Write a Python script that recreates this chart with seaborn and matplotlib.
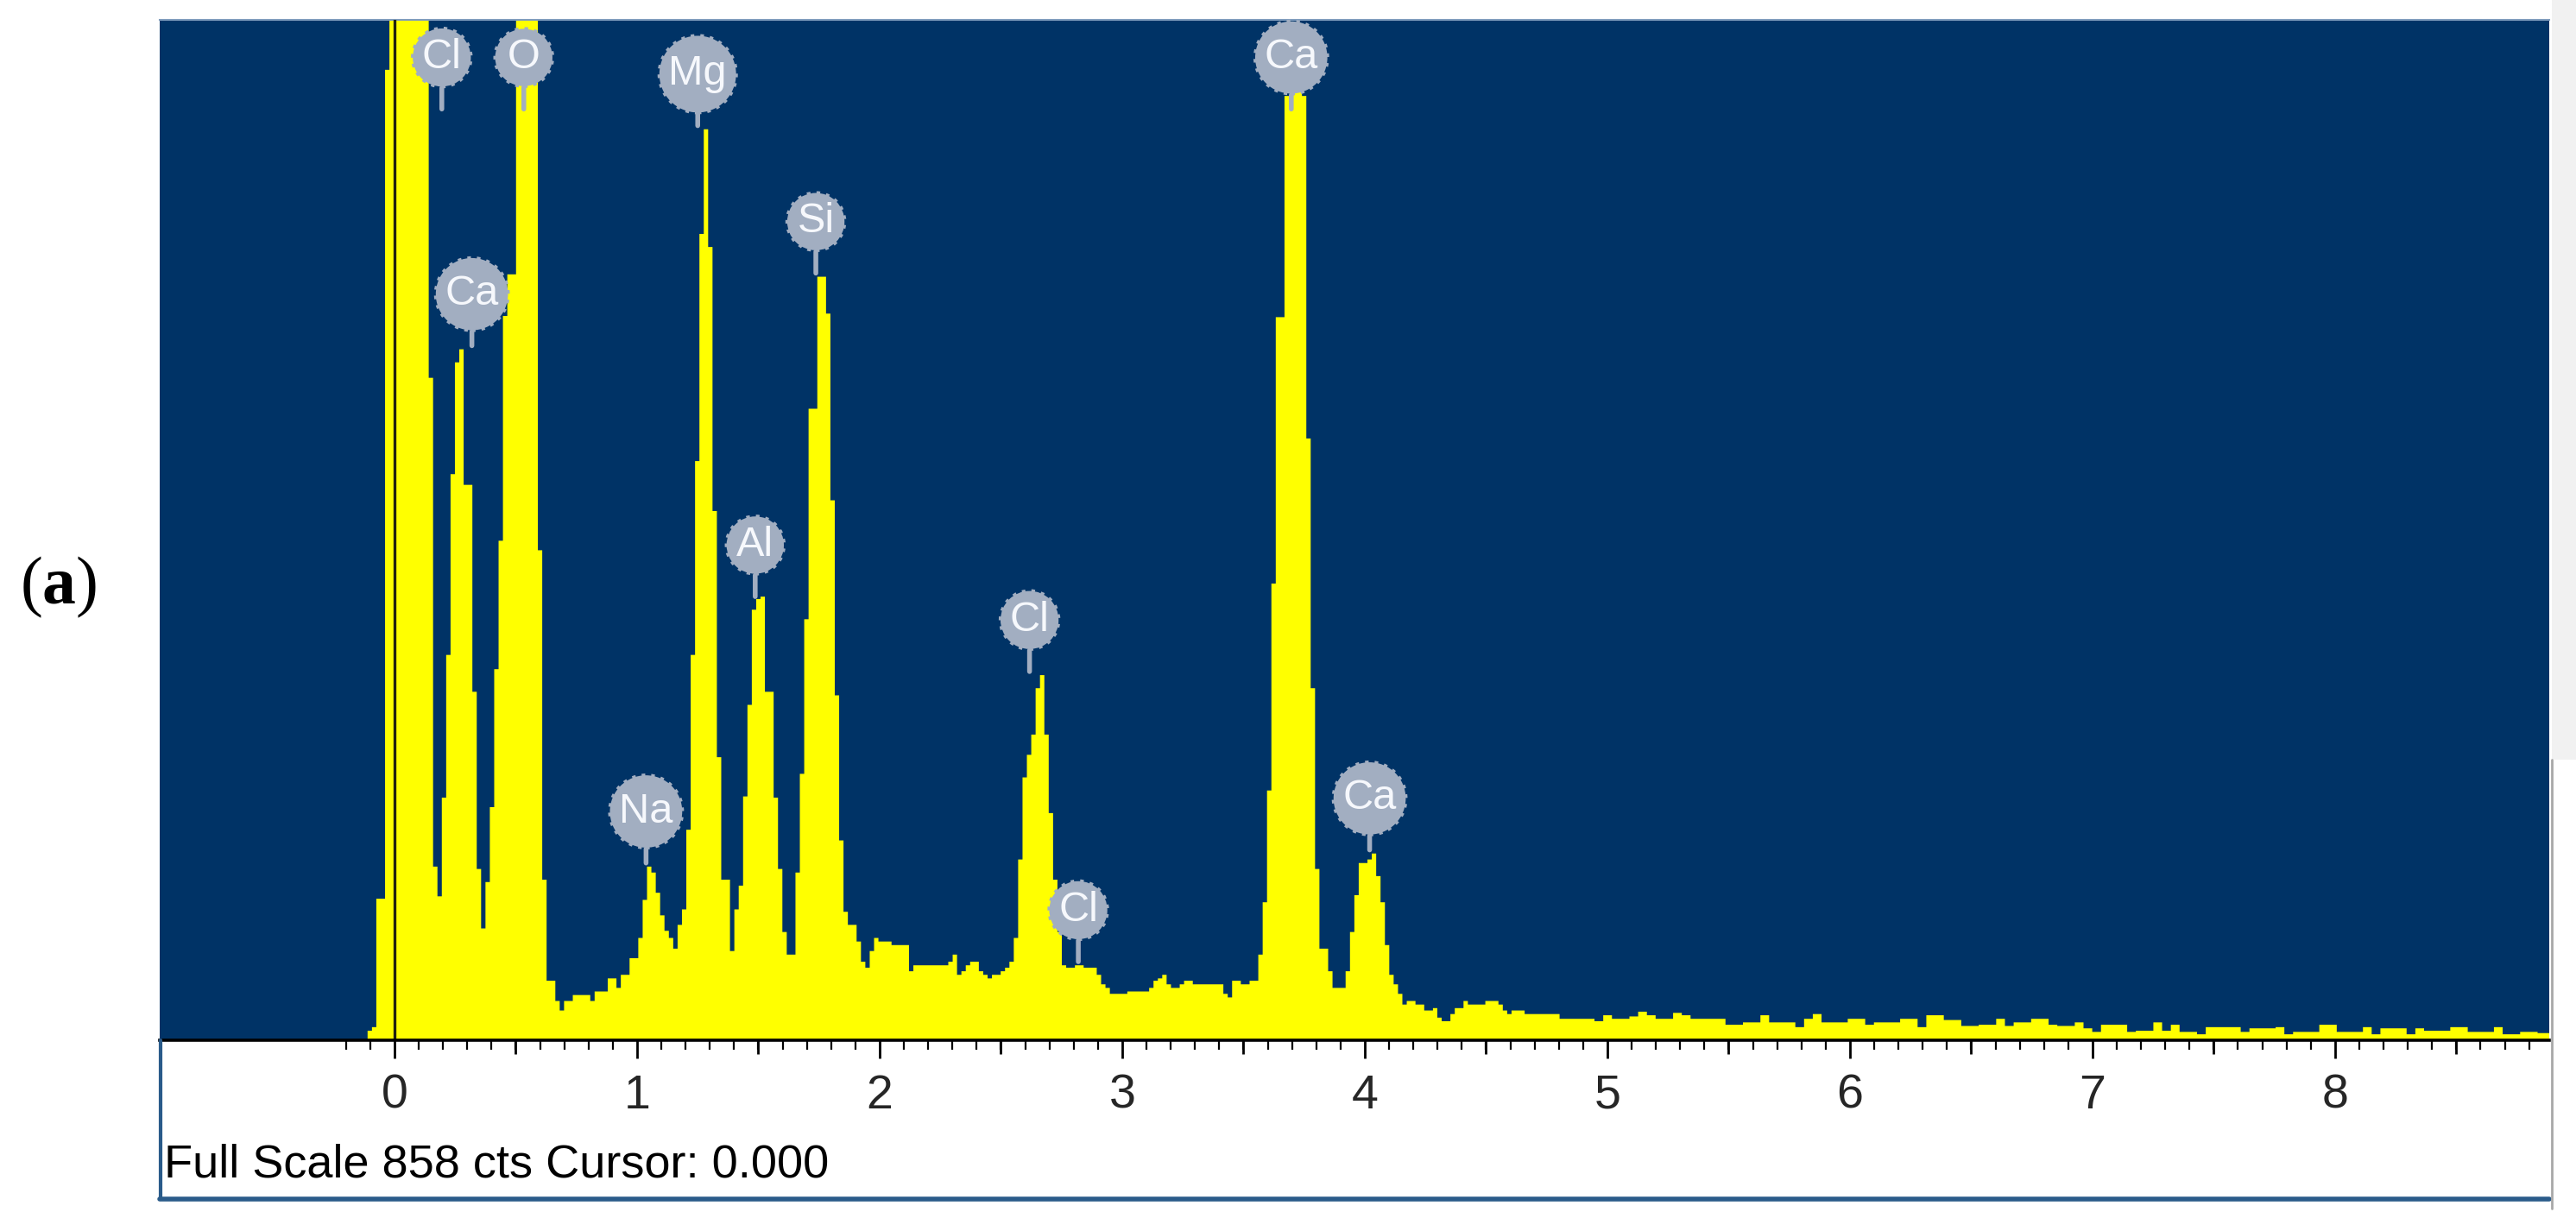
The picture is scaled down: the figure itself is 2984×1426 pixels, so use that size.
import numpy as np
import matplotlib
matplotlib.use("Agg")
import matplotlib.pyplot as plt
from matplotlib.lines import Line2D
from matplotlib.patches import Rectangle
from matplotlib.ticker import FixedLocator
import pandas as pd
import seaborn as sns

# ---------------- data ----------------
channel_start_kev = -0.111      # first channel edge
channel_width_kev = 0.018       # width of one channel (main part)
tail_width_kev = 0.036          # coarser reading of the flat tail

counts_main = [
    8, 11, 119, 119, 816, 1350, 2600, 3100, 2400, 1900,
    1600, 1450, 1250, 1000, 557, 146, 121, 204, 324, 476,
    570, 581, 467, 467, 293, 144, 94, 133, 196, 312,
    420, 609, 644, 644, 1050, 1450, 1600, 1350, 980, 412,
    135, 50, 50, 33, 25, 33, 33, 38, 38, 38,
    38, 33, 41, 41, 41, 52, 52, 44, 55, 55,
    69, 69, 86, 118, 146, 141, 124, 105, 92, 86,
    77, 97, 110, 177, 324, 487, 678, 766, 667, 445,
    238, 135, 135, 75, 110, 130, 205, 282, 362, 371,
    373, 293, 293, 204, 144, 91, 72, 72, 141, 224,
    354, 531, 531, 642, 642, 611, 454, 290, 168, 108,
    97, 97, 83, 66, 61, 75, 86, 83, 83, 83,
    80, 80, 80, 80, 58, 63, 63, 63, 63, 63,
    63, 63, 63, 66, 72, 55, 58, 63, 66, 66,
    58, 55, 52, 55, 55, 58, 61, 66, 86, 152,
    221, 240, 257, 296, 307, 257, 191, 135, 91, 63,
    61, 61, 63, 63, 61, 61, 61, 55, 47, 44,
    39, 39, 39, 39, 41, 41, 41, 41, 41, 44,
    50, 52, 55, 47, 44, 44, 47, 50, 50, 47,
    47, 47, 47, 47, 47, 47, 39, 36, 50, 50,
    47, 47, 50, 50, 72, 116, 210, 384, 608, 608,
    794, 794, 852, 852, 794, 506, 296, 144, 77, 77,
    58, 44, 44, 44, 58, 91, 122, 149, 149, 152,
    157, 138, 116, 80, 55, 47, 39, 30, 33, 33,
    30, 30, 25, 25, 27, 19, 16, 16, 22, 27,
    27, 33, 30, 30, 30, 30, 33, 33, 33, 30,
    25, 22, 25, 25, 25, 22, 22, 22, 22,
]

counts_tail = [
    22, 22, 18, 18, 18, 18, 16, 21, 18, 18,
    20, 24, 21, 18, 18, 23, 21, 18, 18, 18,
    18, 13, 13, 15, 15, 21, 15, 15, 15, 11,
    18, 22, 15, 15, 15, 18, 18, 13, 15, 15,
    15, 18, 18, 11, 21, 21, 17, 17, 12, 12,
    13, 13, 18, 12, 15, 15, 18, 18, 13, 12,
    12, 15, 10, 7, 13, 13, 13, 7, 8, 8,
    15, 8, 13, 7, 7, 5, 11, 11, 11, 11,
    7, 10, 10, 10, 11, 5, 7, 7, 7, 13,
    13, 7, 7, 7, 11, 5, 10, 10, 10, 5,
    10, 8, 8, 8, 11, 11, 7, 7, 7, 11,
    5, 5, 7, 7, 6, 6,
]

peak_labels = ["Cl", "O", "Ca", "Mg", "Si", "Al", "Na", "Cl", "Cl", "Ca", "Ca"]
peak_label_kev = [0.195, 0.533, 0.319, 1.25, 1.737, 1.487, 1.037, 2.618, 2.819, 3.697, 4.02]
peak_label_tip = [783, 783, 584, 769, 645, 373, 149, 310, 66, 783, 160]

x_tick_values = [0, 1, 2, 3, 4, 5, 6, 7, 8]
full_scale_cts = 858
cursor_kev = 0.0
status_text = "Full Scale 858 cts Cursor: 0.000"
panel_label = r"($\mathbf{a}$)"

# ---------------- style ----------------
sns.set_style("white")
plt.rcParams["font.family"] = ["Liberation Sans Narrow", "Liberation Sans", "DejaVu Sans"]
plt.rcParams["mathtext.fontset"] = "custom"
plt.rcParams["mathtext.rm"] = "Liberation Serif"
plt.rcParams["mathtext.bf"] = "Liberation Serif:bold"

NAVY = "#003366"
YELLOW = "#FFFF00"
BADGE = "#a2aec1"

W, H = 2984, 1426
fig = plt.figure(figsize=(W / 100, H / 100), dpi=100)
fig.patch.set_facecolor("white")


def fx(px):
    return px / W


def fy(py):
    return 1 - py / H


ax = fig.add_axes([fx(185), fy(1205), fx(2953) - fx(185), fy(23) - fy(1205)])
ax.set_facecolor(NAVY)

# energy grid (channel edges) built from the calibration above
n_main = len(counts_main)
edges_main = channel_start_kev + channel_width_kev * np.arange(n_main + 1)
edges_tail = edges_main[-1] + tail_width_kev * np.arange(1, len(counts_tail) + 1)
edges = np.concatenate([edges_main, edges_tail])
centers = (edges[:-1] + edges[1:]) / 2
spectrum = pd.DataFrame({"kev": centers, "counts": counts_main + counts_tail})

sns.histplot(data=spectrum, x="kev", weights="counts", bins=[float(e) for e in edges],
             element="step", fill=True, color=YELLOW, alpha=1.0, linewidth=0,
             ax=ax, zorder=2)

ax.axvline(cursor_kev, color="#22220f", lw=2.4, zorder=3)

ax.set_xlim(-0.968, 8.883)
ax.set_ylim(0, full_scale_cts)
ax.set_xlabel("")
ax.set_ylabel("")
ax.set_yticks([])

# spines
for s in ["left", "right"]:
    ax.spines[s].set_visible(False)
ax.spines["top"].set_color("#7f9cbd")
ax.spines["top"].set_linewidth(1.5)
ax.spines["bottom"].set_color("black")
ax.spines["bottom"].set_linewidth(2.6)
ax.spines["bottom"].set_zorder(4)

# ticks
ax.xaxis.set_major_locator(FixedLocator(x_tick_values))
ax.set_xticklabels([str(v) for v in x_tick_values])
ax.xaxis.set_minor_locator(FixedLocator(np.round(np.arange(-0.2, 8.85, 0.1), 1)))
ax.tick_params(axis="x", which="major", direction="out", length=15, width=2,
               color="black", labelsize=40, pad=13, bottom=True)
ax.tick_params(axis="x", which="minor", direction="out", length=8, width=1.6,
               color="black", bottom=True)
half_ticks = np.arange(0.5, 9.0, 1.0)
ax.vlines(half_ticks, 0, -16 / 1182, transform=ax.get_xaxis_transform(),
          colors="black", lw=2, clip_on=False, zorder=5)

# element badges
for name, kev, tip in zip(peak_labels, peak_label_kev, peak_label_tip):
    ax.annotate(name, xy=(kev, tip), xytext=(0, 43), textcoords="offset points",
                ha="center", va="center", fontsize=35, color="#f6f8fc",
                bbox=dict(boxstyle="circle,pad=0.22", fc=BADGE, ec=BADGE, lw=3, ls=":"),
                arrowprops=dict(arrowstyle="-", color=BADGE, lw=4, shrinkA=0, shrinkB=0),
                zorder=6, annotation_clip=False)

# status panel below the spectrum
fig.add_artist(Line2D([fx(186), fx(186)], [fy(1205), fy(1389)], color="#2a5b8a", lw=3))
fig.add_artist(Line2D([fx(185), fx(2953)], [fy(1389), fy(1389)], color="#2a5b8a", lw=4))
fig.add_artist(Rectangle((fx(2956), fy(880)), 1 - fx(2956), fy(0) - fy(880),
                         transform=fig.transFigure, facecolor="#f1f1f1", edgecolor="none"))
fig.add_artist(Line2D([fx(2956), fx(2956)], [fy(880), fy(1400)], color="#a8a8a8", lw=2))
fig.text(fx(190), fy(1350), status_text, ha="left", va="center", fontsize=39, color="black")

# panel label
fig.text(fx(68), fy(680), panel_label, ha="center", va="center", fontsize=56,
         family="Liberation Serif", color="black")

fig.savefig("out.png", dpi=100, facecolor="white")
